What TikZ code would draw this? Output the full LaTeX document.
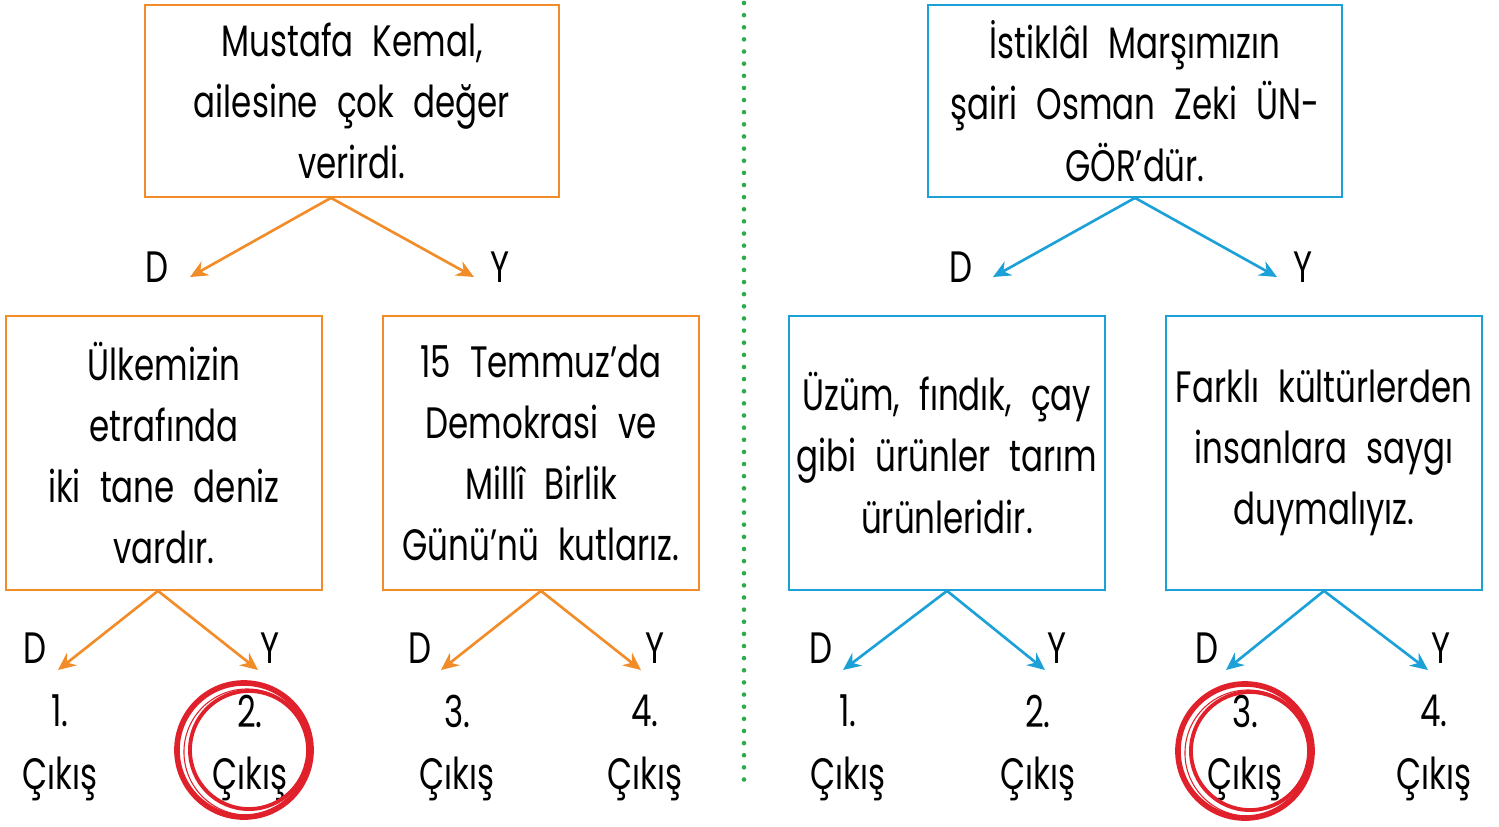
\documentclass[tikz,border=0pt]{standalone}
\usepackage{fontspec}
\setmainfont{Poppins}[FakeStretch=0.74,WordSpace=2.2]
\usetikzlibrary{arrows.meta}
\definecolor{turuncu}{HTML}{F28C28}
\definecolor{mavi}{HTML}{1BA0D8}
\definecolor{yesil}{HTML}{2DAA4A}
\definecolor{kirmizi}{HTML}{E0202A}

\begin{document}
\begin{tikzpicture}[x=0.01cm,y=-0.01cm,>={Stealth[length=5pt,width=4.5pt]},
	every node/.style={font=\fontsize{12.5}{17.4}\selectfont,align=center,inner sep=0pt},
	ustkutu/.style={draw,line width=0.45pt,minimum width=4.14cm,minimum height=1.92cm},
	altkutu/.style={draw,line width=0.45pt,minimum width=3.16cm,minimum height=2.74cm},
	cikis/.style={font=\fontsize{12.5}{17.8}\selectfont},
	ok/.style={->,line width=0.75pt}]
	\useasboundingbox (0,0) rectangle (1499,826);
	% ayirici
	\draw[yesil,line width=1.3pt,line cap=round,dash pattern=on 0pt off 3.45pt] (744,3) -- (744,791);
	% ust kutular
	\node[ustkutu,draw=turuncu] (k1) at (352,101) {Mustafa Kemal,\\ailesine çok değer\\verirdi.};
	\node[ustkutu,draw=mavi] (k2) at (1135,101) {İstiklâl Marşımızın\\şairi Osman Zeki ÜN-\\GÖR’dür.};
	\node (d0) at (157,267) {D};
	\node (y0) at (500,267) {Y};
	\node (d1) at (961,267) {D};
	\node (y1) at (1303,267) {Y};
	\coordinate (ud0) at (190,277);
	\coordinate (uy0) at (474,277);
	\coordinate (ud1) at (993,277);
	\coordinate (uy1) at (1277,277);
	\draw[ok,turuncu] ([xshift=-0.21cm]k1.south) -- (ud0);
	\draw[ok,turuncu] ([xshift=-0.21cm]k1.south) -- (uy0);
	\draw[ok,mavi] (k2.south) -- (ud1);
	\draw[ok,mavi] (k2.south) -- (uy1);
	% alt kutular
	\node[altkutu,draw=turuncu] (a1) at (164,453) {Ülkemizin\\etrafında\\iki tane deniz\\vardır.};
	\node[altkutu,draw=turuncu] (a2) at (541,453) {15 Temmuz’da\\Demokrasi ve\\Millî Birlik\\Günü’nü kutlarız.};
	\node[altkutu,draw=mavi] (a3) at (947,453) {Üzüm, fındık, çay\\gibi ürünler tarım\\ürünleridir.};
	\node[altkutu,draw=mavi] (a4) at (1324,453) {Farklı kültürlerden\\insanlara saygı\\duymalıyız.};
	\node (d2) at (35,648) {D};
	\node (y2) at (270,648) {Y};
	\node (d3) at (420,648) {D};
	\node (y3) at (655,648) {Y};
	\node (d4) at (821,648) {D};
	\node (y4) at (1057,648) {Y};
	\node (d5) at (1207,648) {D};
	\node (y5) at (1441,648) {Y};
	\coordinate (ad2) at (58,670);
	\coordinate (ay2) at (258,670);
	\coordinate (ad3) at (441,670);
	\coordinate (ay3) at (641,670);
	\coordinate (ad4) at (843,670);
	\coordinate (ay4) at (1045,670);
	\coordinate (ad5) at (1226,670);
	\coordinate (ay5) at (1428,670);
	\draw[ok,turuncu] ([xshift=-0.06cm]a1.south) -- (ad2);
	\draw[ok,turuncu] ([xshift=-0.06cm]a1.south) -- (ay2);
	\draw[ok,turuncu] (a2.south) -- (ad3);
	\draw[ok,turuncu] (a2.south) -- (ay3);
	\draw[ok,mavi] (a3.south) -- (ad4);
	\draw[ok,mavi] (a3.south) -- (ay4);
	\draw[ok,mavi] (a4.south) -- (ad5);
	\draw[ok,mavi] (a4.south) -- (ay5);
	% cikislar
	\node[cikis] (c1) at (60,748) {1.\\Çıkış};
	\node[cikis] (c2) at (250,748) {2.\\Çıkış};
	\node[cikis] (c3) at (457,748) {3.\\Çıkış};
	\node[cikis] (c4) at (645,748) {4.\\Çıkış};
	\node[cikis] (c5) at (848,748) {1.\\Çıkış};
	\node[cikis] (c6) at (1038,748) {2.\\Çıkış};
	\node[cikis] (c7) at (1245,748) {3.\\Çıkış};
	\node[cikis] (c8) at (1434,748) {4.\\Çıkış};
	% isaretler
	\draw[kirmizi,line width=1.6pt] (244,750) circle (0.67cm);
	\draw[kirmizi,line width=1.1pt] (249,750) circle (0.59cm);
	\draw[kirmizi,line width=0.3pt] (247,752) circle (0.63cm);
	\draw[kirmizi,line width=1.6pt] (1245,751) circle (0.67cm);
	\draw[kirmizi,line width=1.1pt] (1250,751) circle (0.59cm);
	\draw[kirmizi,line width=0.3pt] (1248,753) circle (0.63cm);
\end{tikzpicture}
\end{document}
